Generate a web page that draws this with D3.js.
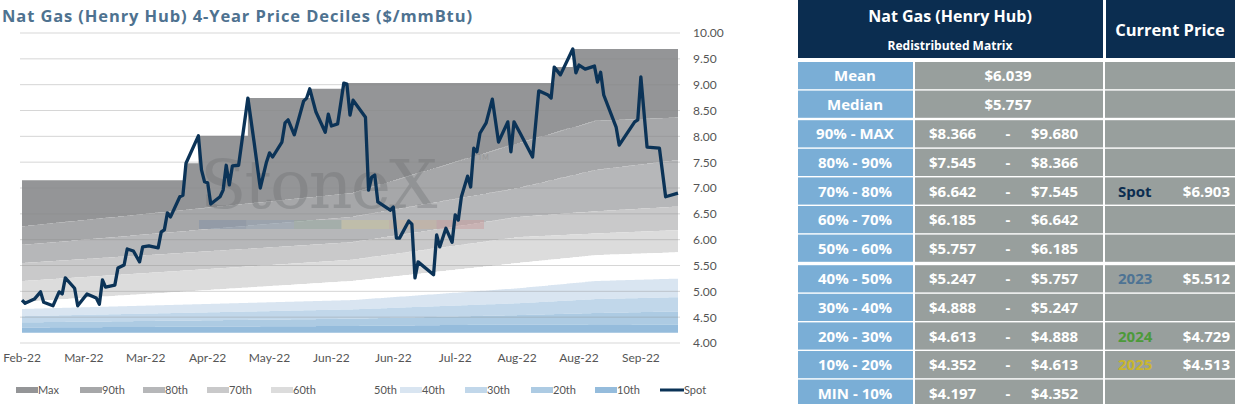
<!DOCTYPE html>
<html><head><meta charset="utf-8">
<script src="https://cdn.jsdelivr.net/npm/d3@7"></script>
<style>body{margin:0;background:#fff;font-family:Lato,"Open Sans",sans-serif;}</style>
</head><body><svg id="c" width="1235" height="404"></svg>
<script>
// spot price, [trading day, $/mmBtu]
var spot = [[0,4.83],[1,4.77],[4,4.85],[6,4.99],[7,4.79],[10,4.72],[12,4.99],[13,4.95],[14,5.26],[17,5.06],[18,4.72],
  [21,4.95],[24,4.87],[25,4.75],[26,5.22],[27,5.08],[30,5.12],[31,5.45],[33,5.51],[34,5.82],[36,5.78],[38,5.57],
  [39,5.86],[41,5.88],[44,5.84],[45,6.15],[46,6.19],[47,6.52],[48,6.44],[51,6.83],[52,6.86],[53,7.48],[57,8.01],
  [58,7.35],[59,7.12],[60,7.10],[61,6.69],[64,6.83],[65,6.96],[66,7.44],[67,7.06],[68,7.43],[70,7.44],[73,8.74],
  [75,7.89],[77,7.00],[79,7.50],[80,7.68],[81,7.60],[84,7.89],[85,8.26],[86,8.32],[88,8.03],[91,8.68],[92,8.74],
  [93,8.92],[95,8.47],[98,8.08],[99,8.43],[100,8.20],[102,8.24],[104,9.03],[105,9.01],[106,8.41],[107,8.70],
  [111,8.37],[112,6.96],[113,7.21],[114,7.25],[115,6.73],[119,6.57],[120,6.63],[121,6.03],[122,6.03],[125,6.36],
  [126,6.30],[127,5.26],[128,5.57],[133,5.32],[134,6.09],[135,5.86],[137,6.22],[139,5.95],[140,6.48],[141,6.38],
  [142,6.83],[144,7.23],[145,7.02],[146,7.77],[147,7.70],[148,8.06],[150,8.26],[152,8.72],[154,7.89],[157,8.28],
  [158,7.70],[159,8.28],[161,8.06],[165,7.60],[167,8.88],[170,8.80],[171,8.74],[172,9.34],[174,9.19],[178,9.69],
  [179,9.23],[180,9.38],[182,9.30],[185,9.36],[186,9.05],[187,9.24],[188,8.80],[192,8.18],[193,7.83],[198,8.28],
  [199,8.32],[200,9.15],[202,7.79],[206,7.77],[208,6.83],[212,6.90]];

var startMax = 7.15;
// decile boundaries (90th,80th,...,10th,min) at anchor days
var anchorDays = [0, 106, 160, 185, 212];
var boundaries = [
  [6.26, 5.90, 5.55, 5.20, 4.80, 4.66, 4.52, 4.40, 4.30, 4.20],
  [6.90, 6.44, 5.95, 5.61, 5.20, 4.83, 4.65, 4.47, 4.33, 4.20],
  [7.87, 7.00, 6.44, 6.05, 5.55, 5.06, 4.77, 4.54, 4.36, 4.20],
  [8.30, 7.35, 6.55, 6.12, 5.70, 5.20, 4.85, 4.58, 4.35, 4.20],
  [8.366, 7.545, 6.642, 6.185, 5.757, 5.247, 4.888, 4.613, 4.352, 4.197]
];
var bandNames = ['Max', '90th', '80th', '70th', '60th', '50th', '40th', '30th', '20th', '10th'];
var bandColors = ['#949597', '#a6a7a9', '#b6b7b9', '#c9c9ca', '#dcdcdc', '#ffffff', '#d9e5f1', '#c1d7ea', '#adcbe3', '#95bcdc'];
var xLabels = ['Feb-22', 'Mar-22', 'Mar-22', 'Apr-22', 'May-22', 'Jun-22', 'Jun-22', 'Jul-22', 'Aug-22', 'Aug-22', 'Sep-22'];
var yTicks = d3.range(4, 10.01, 0.5);

var tableRows = [
  ['Mean', '$6.039', null, '', ''],
  ['Median', '$5.757', null, '', ''],
  ['90% - MAX', '$8.366', '$9.680', '', ''],
  ['80% - 90%', '$7.545', '$8.366', '', ''],
  ['70% - 80%', '$6.642', '$7.545', 'Spot', '$6.903'],
  ['60% - 70%', '$6.185', '$6.642', '', ''],
  ['50% - 60%', '$5.757', '$6.185', '', ''],
  ['40% - 50%', '$5.247', '$5.757', '2023', '$5.512'],
  ['30% - 40%', '$4.888', '$5.247', '', ''],
  ['20% - 30%', '$4.613', '$4.888', '2024', '$4.729'],
  ['10% - 20%', '$4.352', '$4.613', '2025', '$4.513'],
  ['MIN - 10%', '$4.197', '$4.352', '', '']
];
var labelColors = {'Spot': '#0b2d50', '2023': '#4d7394', '2024': '#4c9a3a', '2025': '#c8b62e'};

var svg = d3.select('#c');
var x = d3.scaleLinear().domain([0, 212]).range([22, 678]);
var y = d3.scaleLinear().domain([4, 10]).range([343, 33]);

svg.append('text').attr('x', 2).attr('y', 22).attr('fill', '#4e7290')
  .attr('font-size', 16.5).attr('font-weight', 'bold').attr('font-family', 'Open Sans, sans-serif')
  .attr('textLength', 470)
  .text('Nat Gas (Henry Hub) 4-Year Price Deciles ($/mmBtu)');

// per-day band tops: running max, then boundaries interpolated between anchors
var interp = d3.scaleLinear().domain(anchorDays);
var days = d3.range(0, 213);
var runMax = startMax, si = 0;
var rows = days.map(function(d) {
  while (si < spot.length && spot[si][0] <= d) { runMax = Math.max(runMax, spot[si][1]); si++; }
  var r = [runMax];
  for (var k = 0; k < 10; k++) {
    r.push(interp.range(boundaries.map(function(b) { return b[k]; }))(d));
  }
  return {d: d, v: r};
});

var g = svg.append('g');
bandNames.forEach(function(name, i) {
  g.append('path').datum(rows)
    .attr('fill', bandColors[i])
    .attr('d', d3.area().curve(d3.curveStepAfter)
      .x(function(r) { return x(r.d); })
      .y0(function(r) { return y(r.v[i + 1]); })
      .y1(function(r) { return y(r.v[i]); }));
});

// watermark
svg.append('text').attr('x', 200).attr('y', 208).attr('font-family', 'DejaVu Serif, serif')
  .attr('font-size', 68).attr('fill', '#6d6f72').attr('opacity', 0.35).attr('letter-spacing', -2).text('StoneX');
svg.append('text').attr('x', 478).attr('y', 160).attr('font-size', 7).attr('fill', '#888').attr('opacity', 0.5).text('TM');
['#7d8ea3', '#8fa0b2', '#8fa398', '#c9c69a', '#c9b29a', '#c99a9a'].forEach(function(c, i) {
  svg.append('rect').attr('x', 199 + i * 47.5).attr('y', 220).attr('width', 47.5).attr('height', 9)
    .attr('fill', c).attr('opacity', 0.45);
});

// gridlines
svg.append('g').selectAll('line').data(yTicks).join('line')
  .attr('x1', 20).attr('x2', 680).attr('y1', y).attr('y2', y)
  .attr('stroke', '#8a8a8a').attr('stroke-opacity', 0.35).attr('stroke-width', 1);

svg.append('path').datum(spot)
  .attr('fill', 'none').attr('stroke', '#0b3357').attr('stroke-width', 3.3).attr('stroke-linejoin', 'round')
  .attr('d', d3.line().x(function(p) { return x(p[0]); }).y(function(p) { return y(p[1]); }));

// axes
var ya = svg.append('g').attr('transform', 'translate(690,0)')
  .call(d3.axisRight(y).tickValues(yTicks).tickFormat(d3.format('.2f')).tickSize(0));
ya.select('.domain').remove();
ya.selectAll('text').attr('font-size', 12).attr('fill', '#555').attr('font-family', 'Lato, sans-serif');

svg.append('g').selectAll('text').data(xLabels).join('text')
  .attr('x', function(t, i) { return x(i * 20); }).attr('y', 362)
  .attr('text-anchor', 'middle').attr('font-size', 12).attr('fill', '#555').text(function(t) { return t; });

// legend
var lx = [16, 80, 143, 207, 271, 352, 400, 465, 531, 595, 660];
bandNames.concat(['Spot']).forEach(function(n, i) {
  var gx = svg.append('g').attr('transform', 'translate(' + lx[i] + ',390)');
  if (n === 'Spot') {
    gx.append('line').attr('x1', 0).attr('x2', 24).attr('stroke', '#0b3357').attr('stroke-width', 3);
    gx.append('text').attr('x', 24).attr('y', 4).attr('font-size', 11).attr('fill', '#555').text(n);
  } else {
    gx.append('rect').attr('x', 0).attr('y', -3).attr('width', 22).attr('height', 6).attr('fill', bandColors[i]);
    gx.append('text').attr('x', 22).attr('y', 4).attr('font-size', 11).attr('fill', '#555').text(n);
  }
});

// table
var t = svg.append('g').attr('font-family', 'Open Sans, sans-serif').attr('font-weight', 'bold');
t.append('rect').attr('x', 798).attr('y', 0).attr('width', 305).attr('height', 58).attr('fill', '#0b2d50');
t.append('rect').attr('x', 1106).attr('y', 0).attr('width', 129).attr('height', 58).attr('fill', '#0b2d50');
t.append('text').attr('x', 950).attr('y', 22).attr('text-anchor', 'middle').attr('fill', '#fff').attr('font-size', 16).text('Nat Gas (Henry Hub)');
t.append('text').attr('x', 950).attr('y', 50).attr('text-anchor', 'middle').attr('fill', '#fff').attr('font-size', 12).text('Redistributed Matrix');
t.append('text').attr('x', 1170).attr('y', 36).attr('text-anchor', 'middle').attr('fill', '#fff').attr('font-size', 16.5).text('Current Price');

var rowTop = function(i) { return 62 + i * 28.6 + (i >= 2 ? 1 : 0) + (i >= 7 ? 2 : 0); };
tableRows.forEach(function(r, i) {
  var ty = rowTop(i), h = 27.2, my = ty + h / 2 + 5.5;
  t.append('rect').attr('x', 798).attr('y', ty).attr('width', 115).attr('height', h).attr('fill', '#7aaed6');
  t.append('rect').attr('x', 915).attr('y', ty).attr('width', 188).attr('height', h).attr('fill', '#989f9d');
  t.append('rect').attr('x', 1105).attr('y', ty).attr('width', 130).attr('height', h).attr('fill', '#989f9d');
  t.append('text').attr('x', 855).attr('y', my).attr('text-anchor', 'middle').attr('fill', '#fff').attr('font-size', 15).text(r[0]);
  if (r[2] === null) {
    t.append('text').attr('x', 1008).attr('y', my).attr('text-anchor', 'middle').attr('fill', '#fff').attr('font-size', 15).text(r[1]);
  } else {
    t.append('text').attr('x', 929).attr('y', my).attr('fill', '#fff').attr('font-size', 15).text(r[1]);
    t.append('text').attr('x', 1008).attr('y', my).attr('text-anchor', 'middle').attr('fill', '#fff').attr('font-size', 15).text('-');
    t.append('text').attr('x', 1031).attr('y', my).attr('fill', '#fff').attr('font-size', 15).text(r[2]);
  }
  if (r[3]) {
    t.append('text').attr('x', 1118).attr('y', my).attr('fill', labelColors[r[3]]).attr('font-size', 15).text(r[3]);
    t.append('text').attr('x', 1230).attr('y', my).attr('text-anchor', 'end').attr('fill', '#fff').attr('font-size', 15).text(r[4]);
  }
});
</script></body></html>
